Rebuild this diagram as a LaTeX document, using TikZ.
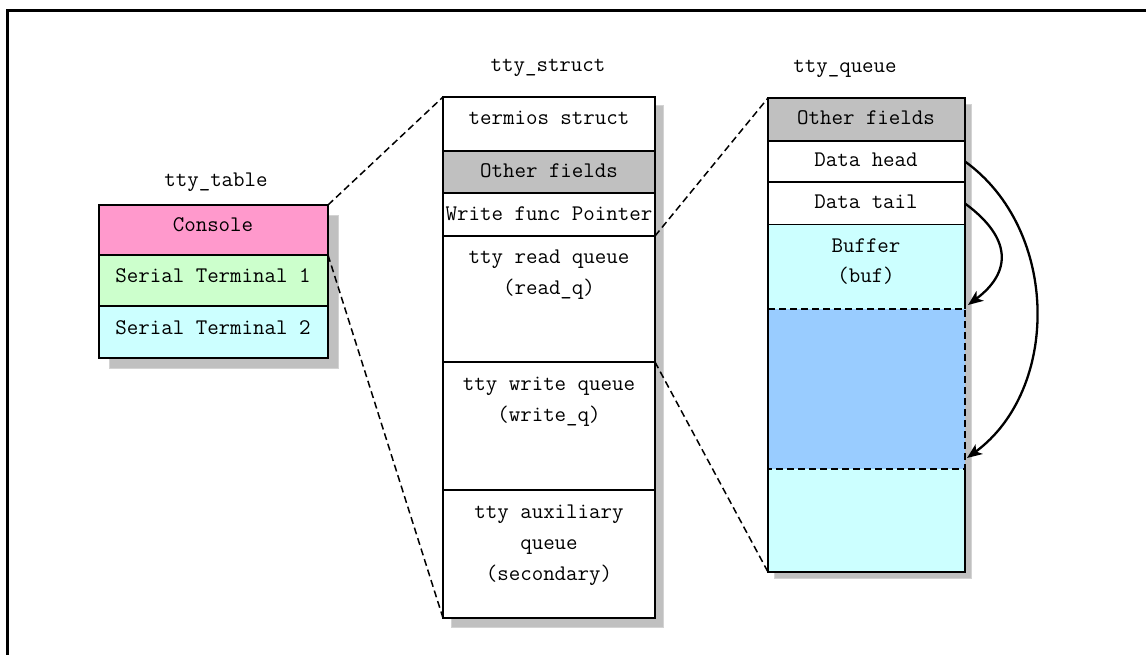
\documentclass[tikz,border=0pt]{standalone}
\usepackage{fontspec}
\usetikzlibrary{arrows.meta}
\definecolor{cpink}{HTML}{FF99CC}
\definecolor{cgreen}{HTML}{CCFFCC}
\definecolor{ccyan}{HTML}{CCFFFF}
\definecolor{cgray}{HTML}{C0C0C0}
\definecolor{cblue}{HTML}{99CCFF}
\definecolor{cshadow}{HTML}{C0C0C0}
\begin{document}
\begin{tikzpicture}[x=1pt,y=-1pt,
  cell/.style={draw=black, line width=2.6pt, inner sep=0pt, outer sep=0pt, anchor=north west, minimum width=#1},
  shadowbox/.style={fill=cshadow, draw=cshadow!70, line width=0.8pt},
  txt/.style={anchor=base, inner sep=0pt, font=\fontsize{22.3}{26}\selectfont\ttfamily},
  link/.style={line width=1.5pt, dash pattern=on 7pt off 4pt},
  ptr/.style={line width=2.3pt, -{Stealth[length=15pt,width=12pt,inset=4pt]}}]
\useasboundingbox (0,0) rectangle (1146,655);
% frame
\draw[line width=3pt] (7,655) -- (7,11) -- (1146,11);
% shadows
\draw[shadowbox] (109,215) rectangle (338,368);
\draw[shadowbox] (451,105) rectangle (663,627);
\draw[shadowbox] (774,104) rectangle (971,578);
% tty_table
\node[cell=229, fill=cpink, minimum height=50] (console) at (99,205) {};
\node[cell=229, fill=cgreen, minimum height=51] (st1) at (99,255) {};
\node[cell=229, fill=ccyan, minimum height=52] (st2) at (99,306) {};
% tty_struct
\node[cell=212, fill=white, minimum height=54] (termios) at (443,97) {};
\node[cell=212, fill=cgray, minimum height=42] (sother) at (443,151) {};
\node[cell=212, fill=white, minimum height=43] (wfp) at (443,193) {};
\node[cell=212, fill=white, minimum height=126] (readq) at (443,236) {};
\node[cell=212, fill=white, minimum height=128] (writeq) at (443,362) {};
\node[cell=212, fill=white, minimum height=128] (aux) at (443,490) {};
% tty_queue
\node[cell=197, fill=cgray, minimum height=43] (qother) at (768,98) {};
\node[cell=197, fill=white, minimum height=41] (qhead) at (768,141) {};
\node[cell=197, fill=white, minimum height=43] (qtail) at (768,182) {};
\node[cell=197, fill=ccyan, draw=none, minimum height=347] (qbuf) at (768,225) {};
\node[cell=197, fill=cblue, draw=none, minimum height=160] (qblue) at (768,309) {};
\draw[line width=2.6pt] (qblue.south east) -- (qbuf.south east) -- (qbuf.south west) -- (qbuf.north west);
\draw[line width=2.6pt] (qbuf.north east) -- (qblue.north east);
\draw[line width=1.8pt, dash pattern=on 7pt off 4pt] (qblue.north west) -- (qblue.north east) -- (qblue.south east) -- (qblue.south west);
% dashed links
\draw[link] (console.north east) -- (termios.north west);
\draw[link] (console.south east) -- (aux.south west);
\draw[link] (wfp.south east) -- (qother.north west);
\draw[link] (readq.south east) -- (qbuf.south west);
% pointers
\coordinate (headend) at (967,458);
\coordinate (tailend) at (968,305);
\draw[ptr] (qhead.east) .. controls (1060,230) and (1060,390) .. (headend);
\draw[ptr] (qtail.east) .. controls (1012,238) and (1012,272) .. (tailend);
% texts
\node[txt] (ltable) at (216,187) {tty\_table};
\node[txt] (tconsole) at (213,232) {Console};
\node[txt] (tst1) at (213,283) {Serial Terminal 1};
\node[txt] (tst2) at (213,334) {Serial Terminal 2};
\node[txt] (lstruct) at (548,72) {tty\_struct};
\node[txt] (ttermios) at (549,125) {termios struct};
\node[txt] (tsother) at (549,178) {Other fields};
\node[txt] (twfp) at (549,221) {Write func Pointer};
\node[txt] (tread1) at (549,264) {tty read queue};
\node[txt] (tread2) at (549,294) {(read\_q)};
\node[txt] (twrite1) at (549,390) {tty write queue};
\node[txt] (twrite2) at (549,421) {(write\_q)};
\node[txt] (taux1) at (549,518) {tty auxiliary};
\node[txt] (taux2) at (549,549) {queue};
\node[txt] (taux3) at (549,580) {(secondary)};
\node[txt] (lqueue) at (845,73) {tty\_queue};
\node[txt] (tqother) at (866,125) {Other fields};
\node[txt] (tqhead) at (866,167) {Data head};
\node[txt] (tqtail) at (866,209) {Data tail};
\node[txt] (tqbuf1) at (866,252) {Buffer};
\node[txt] (tqbuf2) at (866,283) {(buf)};
\end{tikzpicture}
\end{document}
